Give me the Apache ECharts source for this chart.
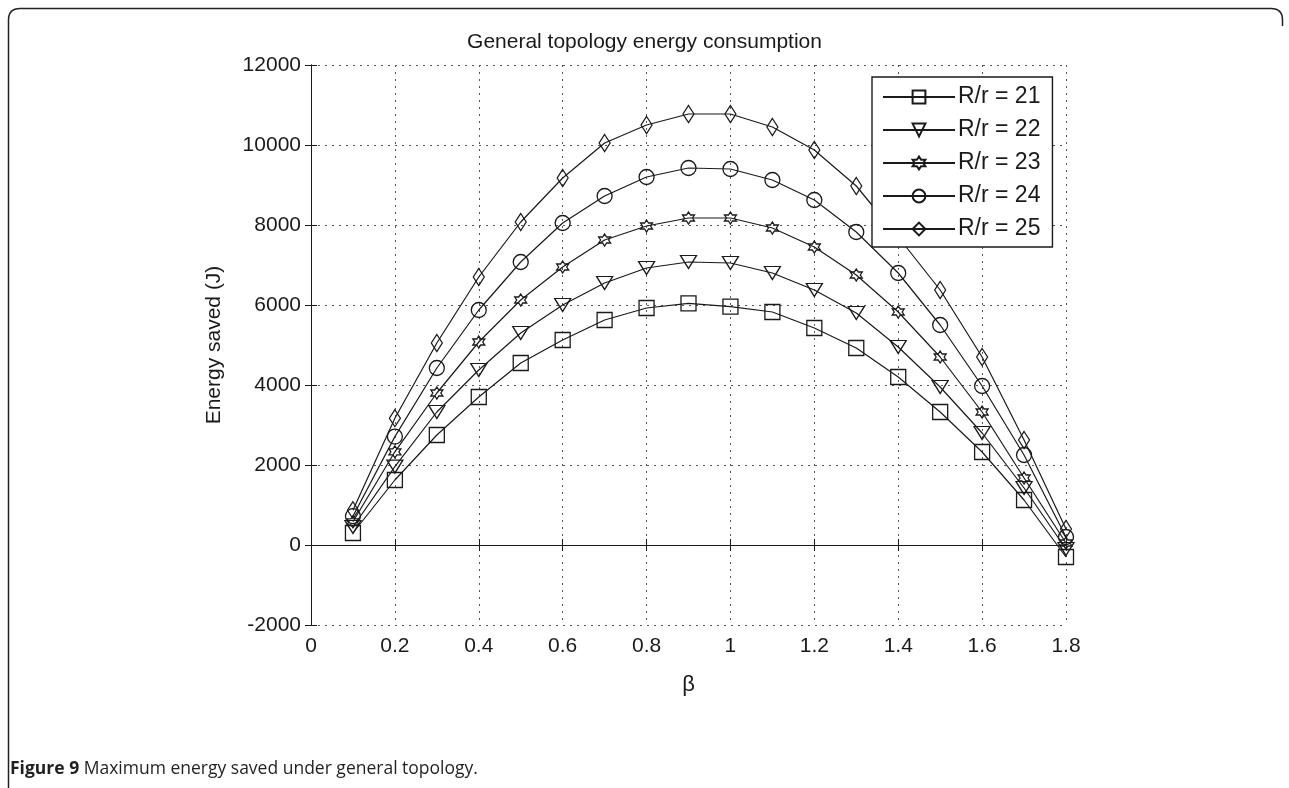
<!DOCTYPE html>
<html>
<head>
<meta charset="utf-8">
<script src="https://cdn.jsdelivr.net/npm/echarts@6/dist/echarts.min.js"></script>
<style>
  html, body { margin: 0; padding: 0; background: #fff; }
  #chart { width: 1289px; height: 788px; }
</style>
</head>
<body>
<div id="chart"></div>
<script>
// β values along the x axis
const beta = [0.1, 0.2, 0.3, 0.4, 0.5, 0.6, 0.7, 0.8, 0.9, 1.0, 1.1, 1.2, 1.3, 1.4, 1.5, 1.6, 1.7, 1.8];

// Energy saved (J) for each ratio R/r
const saved21 = [300, 1625, 2750, 3700, 4550, 5125, 5625, 5925, 6040, 5960, 5825, 5425, 4925, 4200, 3325, 2325, 1125, -300];
const saved22 = [450, 1960, 3325, 4375, 5300, 6000, 6550, 6925, 7075, 7050, 6800, 6375, 5800, 4950, 3950, 2800, 1425, -100];
const saved23 = [580, 2330, 3800, 5075, 6125, 6950, 7625, 7975, 8175, 8175, 7925, 7450, 6750, 5825, 4700, 3325, 1675, 50];
const saved24 = [720, 2710, 4425, 5875, 7075, 8050, 8725, 9200, 9425, 9400, 9125, 8625, 7825, 6800, 5500, 3975, 2250, 200];
const saved25 = [870, 3170, 5050, 6700, 8075, 9175, 10050, 10500, 10775, 10775, 10450, 9875, 8975, 7700, 6375, 4700, 2625, 400];

const seriesNames = ['R/r = 21', 'R/r = 22', 'R/r = 23', 'R/r = 24', 'R/r = 25'];

const ink = '#1a1a1a';
const font = 'Liberation Sans, Arial, sans-serif';

// six-pointed star marker
const hexagram = 'path://M0,-10 L2.9,-5 L8.66,-5 L5.77,0 L8.66,5 L2.9,5 L0,10 L-2.9,5 L-8.66,5 L-5.77,0 L-8.66,-5 L-2.9,-5 Z';

const markers = [
  { symbol: 'rect', size: 15, rotate: 0 },
  { symbol: 'triangle', size: [16, 13], rotate: 180 },
  { symbol: hexagram, size: 12, rotate: 0 },
  { symbol: 'circle', size: 15, rotate: 0 },
  { symbol: 'diamond', size: [11, 17], rotate: 0 }
];

const values = [saved21, saved22, saved23, saved24, saved25];

const series = values.map((vals, i) => ({
  name: seriesNames[i],
  type: 'line',
  data: beta.map((b, j) => [b, vals[j]]),
  symbol: markers[i].symbol,
  symbolSize: markers[i].size,
  symbolRotate: markers[i].rotate,
  showAllSymbol: true,
  lineStyle: { color: ink, width: 1.2 },
  itemStyle: { color: 'rgba(255,255,255,0)', borderColor: ink, borderWidth: 1.3 },
  emphasis: { disabled: true },
  animation: false,
  z: 3
}));

const gridLine = { show: true, lineStyle: { color: '#555', width: 1, type: [2, 5] } };
const axisLine = { show: true, lineStyle: { color: ink, width: 1 } };
const tickLabel = { color: ink, fontFamily: font, fontSize: 21 };
const frameStyle = { fill: null, stroke: '#222', lineWidth: 1.5 };

const chart = echarts.init(document.getElementById('chart'), null, { renderer: 'canvas' });
chart.setOption({
  backgroundColor: '#fff',
  animation: false,
  title: {
    text: 'General topology energy consumption',
    left: 'center',
    top: 27,
    textStyle: { color: ink, fontFamily: font, fontSize: 21, fontWeight: 'normal' }
  },
  grid: { left: 311, top: 65, width: 755, height: 560 },
  legend: {
    orient: 'vertical',
    left: 872,
    top: 77,
    data: seriesNames,
    itemWidth: 72,
    itemHeight: 16,
    itemGap: 9,
    padding: [8, 12, 6, 10],
    backgroundColor: '#fff',
    borderColor: ink,
    borderWidth: 1.4,
    borderRadius: 0,
    textStyle: { color: ink, fontFamily: font, fontSize: 23, lineHeight: 24, padding: [0, 0, 0, -2] },
    z: 10
  },
  xAxis: [
    {
      type: 'value', min: 0, max: 1.8, interval: 0.2,
      name: 'β', nameLocation: 'middle', nameGap: 49,
      nameTextStyle: { color: ink, fontFamily: font, fontSize: 22 },
      axisLine: axisLine,
      axisTick: { show: true, inside: true, length: 6, lineStyle: { color: ink } },
      axisLabel: Object.assign({ margin: 11, formatter: v => String(+v.toFixed(1)) }, tickLabel),
      splitLine: gridLine
    },
    {
      type: 'value', position: 'top', min: 0, max: 1.8, interval: 0.2,
      axisLine: axisLine,
      axisTick: { show: true, inside: true, length: 6, lineStyle: { color: ink } },
      axisLabel: { show: false },
      splitLine: { show: false }
    }
  ],
  yAxis: [
    {
      type: 'value', min: -2000, max: 12000, interval: 2000,
      name: 'Energy saved (J)', nameLocation: 'middle', nameGap: 86,
      nameTextStyle: { color: ink, fontFamily: font, fontSize: 21 },
      axisLine: axisLine,
      axisTick: { show: true, inside: true, length: 6, lineStyle: { color: ink } },
      axisLabel: Object.assign({ margin: 10, formatter: v => String(v) }, tickLabel),
      splitLine: gridLine
    },
    {
      type: 'value', position: 'right', min: -2000, max: 12000, interval: 2000,
      axisLine: axisLine,
      axisTick: { show: true, inside: true, length: 6, lineStyle: { color: ink } },
      axisLabel: { show: false },
      splitLine: { show: false }
    }
  ],
  graphic: [
    // figure frame: left edge, top edge and rounded top corners
    { type: 'polyline', shape: { points: [[8.5, 788], [8.5, 20]] }, style: frameStyle, silent: true },
    { type: 'polyline', shape: { points: [[20, 8.5], [1271, 8.5]] }, style: frameStyle, silent: true },
    { type: 'bezierCurve', shape: { x1: 8.5, y1: 20, x2: 20, y2: 8.5, cpx1: 8.5, cpy1: 8.5 }, style: frameStyle, silent: true },
    { type: 'bezierCurve', shape: { x1: 1271, y1: 8.5, x2: 1282.5, y2: 20, cpx1: 1282.5, cpy1: 8.5 }, style: frameStyle, silent: true },
    { type: 'polyline', shape: { points: [[1282.5, 20], [1282.5, 26]] }, style: frameStyle, silent: true },
    {
      type: 'text',
      left: 10,
      top: 760,
      style: {
        text: '{b|Figure 9} Maximum energy saved under general topology.',
        rich: {
          b: { fontFamily: 'Open Sans, Noto Sans, sans-serif', fontSize: 17.5, fontWeight: 'bold', fill: '#231f20' }
        },
        fontFamily: 'Open Sans, Noto Sans, sans-serif',
        fontSize: 17.5,
        fill: '#231f20'
      }
    }
  ],
  series: series
});
</script>
</body>
</html>
